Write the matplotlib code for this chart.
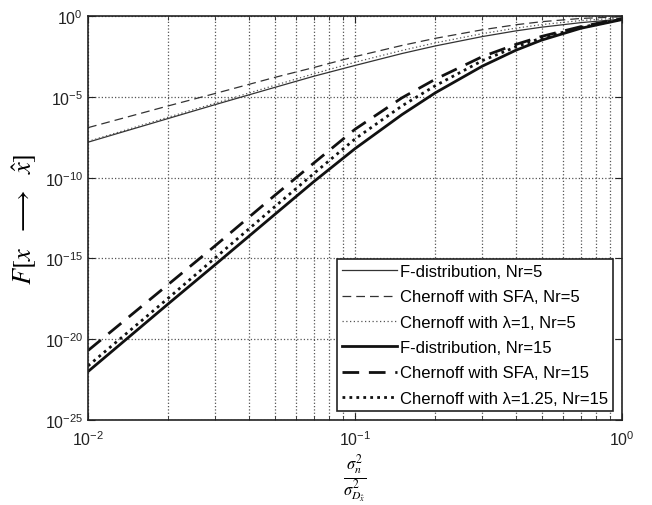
import numpy as np
import matplotlib.pyplot as plt
from matplotlib.ticker import LogLocator, NullLocator, NullFormatter

plt.rcParams['font.family'] = ['Liberation Sans', 'DejaVu Sans']
plt.rcParams['mathtext.fontset'] = 'stix'

# x values (sigma_n^2 / sigma_D^2) where curves were read
x = [0.01, 0.02, 0.03, 0.05, 0.07, 0.1, 0.15, 0.2, 0.3, 0.4, 0.5, 0.7, 1.0]

# log10 of F for each series
f_nr5 = [-7.8, -6.33, -5.47, -4.41, -3.72, -3.05, -2.31, -1.84, -1.26, -0.91, -0.68, -0.4, -0.18]
sfa_nr5 = [-6.9, -5.55, -4.78, -3.79, -3.18, -2.5, -1.81, -1.37, -0.84, -0.53, -0.34, -0.14, -0.03]
lam_nr5 = [-7.75, -6.25, -5.38, -4.28, -3.57, -2.85, -2.12, -1.65, -1.08, -0.74, -0.52, -0.27, -0.1]
f_nr15 = [-22.0, -17.8, -15.37, -12.28, -10.25, -8.2, -6.09, -4.74, -3.09, -2.11, -1.48, -0.75, -0.21]
sfa_nr15 = [-20.7, -16.6, -14.2, -11.1, -9.1, -7.0, -5.05, -3.9, -2.5, -1.75, -1.25, -0.65, -0.15]
lam_nr15 = [-21.65, -17.45, -14.95, -11.8, -9.75, -7.6, -5.55, -4.3, -2.75, -1.9, -1.35, -0.7, -0.18]

labels = [
    "F-distribution, Nr=5",
    "Chernoff with SFA, Nr=5",
    "Chernoff with λ=1, Nr=5",
    "F-distribution, Nr=15",
    "Chernoff with SFA, Nr=15",
    "Chernoff with λ=1.25, Nr=15",
]

fig = plt.figure(figsize=(6.52, 5.06), dpi=100)
ax = fig.add_axes([0.135, 0.168, 0.819, 0.798])

series = [f_nr5, sfa_nr5, lam_nr5, f_nr15, sfa_nr15, lam_nr15]
styles = [
    dict(ls="-", lw=0.9, color="#333333"),
    dict(ls=(0, (7, 4)), lw=0.9, color="#333333"),
    dict(ls=(0, (1, 2)), lw=0.9, color="#555555"),
    dict(ls="-", lw=2.0, color="#111111"),
    dict(ls=(0, (6, 3.5)), lw=2.0, color="#111111"),
    dict(ls=(0, (1, 1.5)), lw=2.0, color="#111111"),
]
for vals, st, lab in zip(series, styles, labels):
    ax.plot(x, 10.0 ** np.array(vals), label=lab, **st)

ax.set_xscale("log")
ax.set_yscale("log")
ax.set_xlim(1e-2, 1)
ax.set_ylim(1e-25, 1)
ax.set_yticks([1e-25, 1e-20, 1e-15, 1e-10, 1e-5, 1])
ax.yaxis.set_minor_locator(NullLocator())
ax.xaxis.set_minor_locator(LogLocator(base=10, subs=np.arange(2, 10), numticks=20))
ax.xaxis.set_minor_formatter(NullFormatter())

ax.grid(True, which="major", ls=":", color="#555555", lw=0.9)
ax.grid(True, which="minor", axis="x", ls=":", color="#555555", lw=0.9)

ax.tick_params(which="both", direction="in", top=True, right=True, labelsize=11.5, colors="#222222")
ax.tick_params(which="major", length=5)
ax.tick_params(which="minor", length=3)
ax.tick_params(axis="x", pad=7)
for s in ax.spines.values():
    s.set_linewidth(1.2)
    s.set_color("#222222")

ax.set_ylabel(r"$F[x\ \ \longrightarrow\ \ \hat{x}]$", fontsize=19, labelpad=4)
ax.set_xlabel(r"$\frac{\sigma_n^2}{\sigma_{D_{\hat{x}}}^2}$", fontsize=17, labelpad=2)

leg = ax.legend(loc="lower right", fontsize=12, frameon=True, fancybox=False,
                handlelength=3.3, handletextpad=0.15, borderpad=0.3, labelspacing=0.62,
                borderaxespad=0.55)
leg.get_frame().set_edgecolor("#222222")
leg.get_frame().set_linewidth(1.2)
leg.get_frame().set_alpha(1.0)

fig.savefig("out.png", dpi=100)
